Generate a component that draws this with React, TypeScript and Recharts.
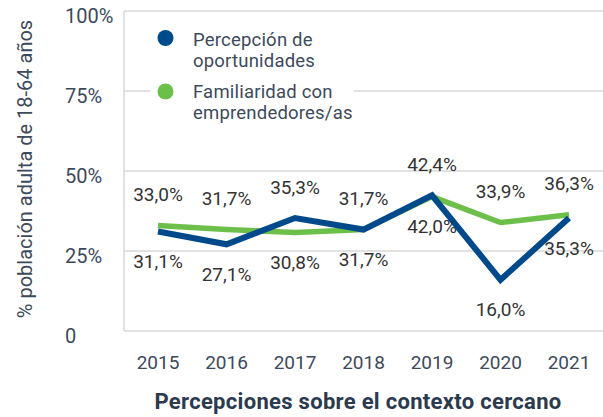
import React from 'react';
import { LineChart, Line, XAxis, YAxis, CartesianGrid, LabelList } from 'recharts';

const years = ['2015', '2016', '2017', '2018', '2019', '2020', '2021'];
const percepcion = [31.1, 27.1, 35.3, 31.7, 42.4, 16.0, 35.3];
const familiaridad = [33.0, 31.7, 30.8, 31.7, 42.0, 33.9, 36.3];
const yTicks = [0, 25, 50, 75, 100];

const BLUE = '#004a8c';
const GREEN = '#6cc04a';
const SLATE = '#3d4a5c';
const FONT = 'Roboto, sans-serif';

const data = years.map((year, i) => ({
  year,
  percepcion: percepcion[i],
  familiaridad: familiaridad[i],
}));

const fmt = (v: number) => v.toFixed(1).replace('.', ',') + '%';

// label goes above the point when this series is the higher one (ties: blue on top)
const makeLabel = (key: 'percepcion' | 'familiaridad') => (props: any) => {
  const { x, y, value, index } = props;
  const other = key === 'percepcion' ? familiaridad[index] : percepcion[index];
  const above = key === 'percepcion' ? value >= other : value > other;
  return (
    <text
      x={x}
      y={above ? y - 31 : y + 30}
      textAnchor="middle"
      dominantBaseline="central"
      fontSize={19}
      fontFamily={FONT}
      fill="#333"
    >
      {fmt(value)}
    </text>
  );
};

const YTick = (props: any) => {
  const { y, payload } = props;
  return (
    <text x={65} y={y + 5} textAnchor="start" dominantBaseline="central" fontSize={20} fontFamily={FONT} fill={SLATE}>
      {payload.value === 0 ? '0' : `${payload.value}%`}
    </text>
  );
};

const XTick = (props: any) => {
  const { x, y, payload } = props;
  return (
    <text x={x} y={y + 23} textAnchor="middle" dominantBaseline="central" fontSize={19} fontFamily={FONT} fill={SLATE}>
      {payload.value}
    </text>
  );
};

const legendItems = [
  { color: BLUE, lines: ['Percepción de', 'oportunidades'] },
  { color: GREEN, lines: ['Familiaridad con', 'emprendedores/as'] },
];

const App: React.FC = () => {
  return (
    <div style={{ position: 'absolute', left: 0, top: 0, width: 603, height: 417, background: '#fff' }}>
      <LineChart width={603} height={417} data={data} margin={{ top: 11, right: 0, bottom: 0, left: 0 }}>
        <CartesianGrid vertical={false} stroke="#d9d9d9" strokeWidth={1.5} />
        <XAxis
          dataKey="year"
          axisLine={false}
          tickLine={false}
          height={86}
          tick={<XTick />}
          interval={0}
          padding={{ left: 34, right: 34 }}
        />
        <YAxis
          domain={[0, 100]}
          ticks={yTicks}
          width={124}
          axisLine={{ stroke: '#d9d9d9', strokeWidth: 1.5 }}
          tickLine={false}
          tick={<YTick />}
        />
        <Line dataKey="familiaridad" stroke={GREEN} strokeWidth={5.5} dot={false} isAnimationActive={false}>
          <LabelList dataKey="familiaridad" content={makeLabel('familiaridad')} />
        </Line>
        <Line dataKey="percepcion" stroke={BLUE} strokeWidth={6} dot={false} isAnimationActive={false}>
          <LabelList dataKey="percepcion" content={makeLabel('percepcion')} />
        </Line>
        <text x={25} y={169} transform="rotate(-90 25 169)" textAnchor="middle" dominantBaseline="central" fontSize={20} fontFamily={FONT} fill={SLATE}>
          % población adulta de 18-64 años
        </text>
        <text x={358} y={401} textAnchor="middle" dominantBaseline="central" fontSize={22} fontWeight={700} letterSpacing={0.3} fontFamily={FONT} fill="#2b3a4e">
          Percepciones sobre el contexto cercano
        </text>
      </LineChart>
      <svg width={603} height={130} style={{ position: 'absolute', left: 0, top: 0 }}>
        <rect x={150} y={20} width={204} height={106} fill="#fff" />
        {legendItems.map((item, i) => (
          <g key={i}>
            <circle cx={165.5} cy={38 + i * 53.5} r={8} fill={item.color} />
            <text x={193} y={45.5 + i * 52} fontSize={18.5} letterSpacing={0.2} fontFamily={FONT} fill={SLATE}>
              {item.lines.map((l, j) => (
                <tspan key={l} x={193} dy={j === 0 ? 0 : 21.5}>
                  {l}
                </tspan>
              ))}
            </text>
          </g>
        ))}
      </svg>
    </div>
  );
};

export default App;
